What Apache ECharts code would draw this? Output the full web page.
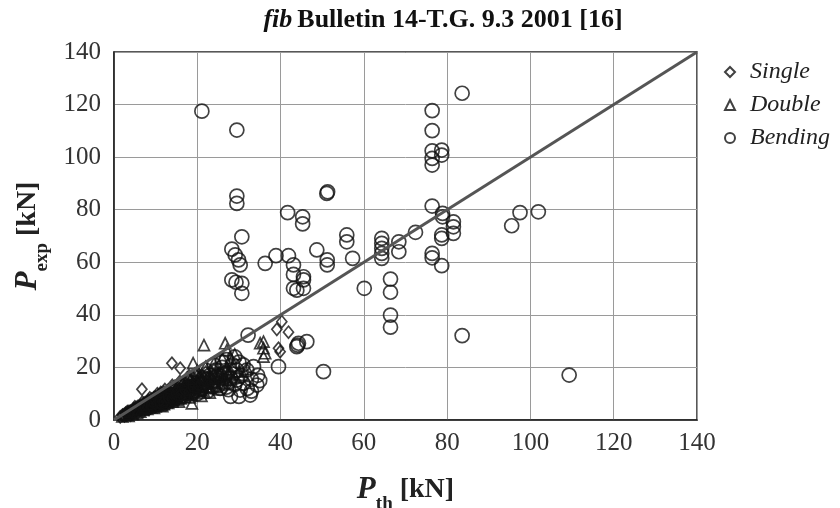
<!DOCTYPE html>
<html>
<head>
<meta charset="utf-8">
<script src="https://cdn.jsdelivr.net/npm/echarts@6/dist/echarts.min.js"></script>
<style>
  html, body { margin: 0; padding: 0; background: #fff; }
  #chart { width: 840px; height: 508px; }
</style>
</head>
<body>
<div id="chart"></div>
<script>
// Axis ticks (kN)
const axisMin = 0;
const axisMax = 140;
const axisStep = 20;

// Single-shear specimens [P_th, P_exp]
const singleData = [
  [1.5,1.2],[2,1.8],[2.5,1.5],[3,2.4],[3,1.9],[3.5,2.8],[3.8,2.2],[4,3.4],[4.2,2.7],[4.5,3.8],
  [4.8,2.9],[5,4.2],[5,3.3],[5.3,4.8],[5.5,3.6],[5.8,4.4],[6,5.2],[6,3.9],[6.2,4.7],[6.5,5.6],
  [6.7,11.7],[6.8,4.3],[7,6.1],[7,5.0],[7.3,4.6],[7.5,6.6],[7.6,5.4],[8,7.0],[8,5.8],[8.2,4.9],
  [8.5,7.3],[8.5,6.2],[8.8,5.3],[9,8.0],[9,6.6],[9.3,5.8],[9.5,8.4],[9.6,7.1],[10,8.8],[10,6.3],
  [10.2,7.6],[10.5,9.2],[10.6,5.9],[11,9.6],[11,7.9],[11.3,6.7],[11.5,10.2],[11.8,8.4],[12,10.6],[12,7.2],
  [12.4,9.1],[12.6,6.6],[13,11.3],[13,8.3],[13.4,9.8],[13.5,7.4],[13.9,21.6],[14,12.2],[14,9.0],[14.5,10.6],
  [14.8,7.9],[15,12.8],[15.2,9.6],[15.5,11.4],[15.9,19.7],[16,13.6],[16,10.2],[16.5,12.1],[17,14.3],[17,9.4],
  [17.4,11.2],[18,15.1],[18,12.6],[18.5,10.1],[19,16.0],[19,13.2],[19.5,11.5],[20,16.6],[20,13.9],[21,17.2],
  [21,14.6],[22,18.1],[22,12.8],[23,16.4],[24,19.0],[25,17.5],
  [2.2,2.0],[2.8,2.6],[3.3,2.9],[3.6,3.3],[4.4,3.3],[4.7,4.3],[5.2,3.9],[5.7,5.1],[6.3,5.5],[6.6,4.5],
  [7.2,6.4],[7.8,5.1],[8.3,7.6],[8.7,6.4],[9.2,7.5],[9.8,8.5],[10.3,8.2],[10.8,7.0],[11.2,10.4],[11.6,9.0],
  [12.2,9.8],[12.8,10.1],[13.2,8.8],[13.7,11.8],[14.2,10.1],[14.6,12.8],[15.3,10.7],[15.7,13.3],[16.3,11.3],[16.8,14.0],
  [17.6,13.0],[18.2,14.4],[18.8,11.4],[19.3,14.7],[20.4,15.3],[21.5,16.0],
  [4.0,1.8],[5.6,2.6],[7.0,3.4],[8.4,4.0],[9.8,5.0],[11.2,5.6],[12.6,6.2],[14.0,6.9],[15.4,7.6],[16.8,8.4],
  [3.2,3.2],[5.0,5.0],[6.8,6.8],[8.6,8.4],[10.4,10.0],[12.2,11.6],[14.0,13.2],[15.8,14.6],[17.6,16.1],[19.4,17.5],
  [39.1,34.5],[40.3,37.4],[41.9,33.4],[39.5,27.3],[39.9,26.0]
];

// Double-shear specimens [P_th, P_exp]
const doubleData = [
  [2,1.4],[3,2.0],[3.5,1.6],[4,2.8],[4.5,2.2],[5,3.6],[5.5,2.7],[6,4.6],[6.3,3.2],[6.8,5.2],
  [7,3.8],[7.4,4.4],[7.8,6.0],[8,4.2],[8.4,5.1],[8.8,6.8],[9,4.8],[9.4,5.6],[9.8,7.4],[10,5.2],
  [10.4,6.1],[10.8,8.1],[11,5.6],[11.4,6.9],[11.8,8.8],[12,6.0],[12.4,7.6],[12.8,9.5],[13,6.5],[13.4,8.3],
  [13.8,10.1],[14,7.0],[14.4,9.0],[14.8,11.0],[15,7.6],[15.4,9.7],[15.8,11.8],[16,8.2],[16.4,10.4],[16.8,12.6],
  [17,8.8],[17.5,11.1],[18,13.5],[18.7,6.3],[18.5,9.5],[19,21.6],[19,12.0],[19.5,14.2],[20,10.3],[20.5,12.8],
  [21,15.2],[21.6,28.5],[21.5,11.2],[22,13.7],[22.5,16.2],[23,12.1],[23.5,14.6],[24,17.3],[24.5,13.0],[25,15.6],
  [25.5,18.4],[26,14.1],[26.7,29.2],[27.1,26.6],[26.5,16.6],[27,19.5],[27.5,15.2],[28,17.6],[28.5,20.4],[29,16.3],
  [28,23.5],[29,25.0],[30,18.5],[31,17.2],[32,19.3],
  [2.6,2.2],[3.8,3.1],[4.8,3.9],[5.8,4.1],[6.6,4.0],[7.2,5.6],[7.6,4.9],[8.2,6.4],[8.6,5.9],[9.2,6.2],
  [9.6,4.6],[10.2,7.8],[10.6,6.8],[11.2,7.3],[11.6,5.3],[12.2,9.0],[12.6,7.0],[13.2,9.8],[13.6,7.8],[14.2,8.2],
  [14.6,10.5],[15.2,8.9],[15.6,7.0],[16.2,9.6],[16.6,11.7],[17.2,10.0],[17.8,12.2],[18.2,8.6],[19.2,10.8],[19.8,12.5],
  [20.8,11.5],[21.3,13.8],[22.3,12.6],[23.3,15.5],[24.3,14.0],[25.3,17.0],[26.3,15.3],[27.3,17.8],
  [18.0,17.0],[20.0,18.8],[22.0,20.2],[24.0,21.6],[26.0,23.4],[21.0,9.2],[23.0,10.4],[25.0,11.6],
  [35.1,29.2],[35.9,29.8],[35.9,27.3],[36.3,25.4],[35.9,24.1]
];

// Bending specimens [P_th, P_exp]
const bendingData = [
  [8,5],[9,6.5],[10,7],[11,6],[12,8],[13,7.5],[14,9.5],[15,8.5],[16,11],[17,10],
  [18,12.5],[19,11],[20,14],[20,10],[21,12],[21.5,16],[22,14.5],[22.5,11],[23,17],[23.8,12.7],
  [24,15],[24.5,19],[25,13],[25.5,16.5],[26,20],[26.5,14],[27,18],[27.5,11.5],[28,16],[28.5,21],
  [29,13.5],[29.5,15.2],[29.5,19],[30.3,11.4],[30.5,17],[31,14],[31.9,19],[32,12],[32.7,9.5],[33.5,20.3],
  [34.3,13.3],[34.5,17],[35,15],[33,15.5],[28,9],[27,12.5],[31,21],[27,23],[29,24],
  [9.5,5.5],[10.5,8],[11.5,7],[12.5,6.5],[13.5,9],[14.5,8],[15.5,10],[16.5,9],[17.5,12],[18.5,10],
  [19.5,13],[20.5,11.5],[21.5,13.5],[22.5,15.5],[23.5,13],[24.5,16.5],[25.5,12],[26.5,17.5],[27.5,14.5],[28.5,17.5],
  [26,22],[24,21],[22,19],[30,22],[30,9],[33,11],
  [21.1,117.5],[29.5,110.3],[29.5,85.2],[29.5,82.4],[51.1,86.2],[51.3,86.8],[41.7,78.9],[45.3,77.3],[45.3,74.6],
  [30.7,69.7],[28.3,65],[29.1,62.8],[29.9,60.9],[30.3,59],[36.3,59.6],[38.9,62.5],[41.9,62.5],[43.1,59],
  [48.7,64.7],[51.2,60.9],[51.2,59],[55.9,70.4],[55.9,67.8],[57.3,61.5],[28.3,53.3],[29.3,52.4],[30.7,52],
  [30.7,48.2],[43.1,55.4],[45.5,54.5],[43.1,50.1],[45.5,53.3],[45.5,50.1],[43.9,49.4],[60.1,50.1],
  [83.6,124.3],[76.4,117.7],[76.4,110.1],[76.4,102.4],[76.4,99.5],[76.4,97],[78.7,102.7],[78.7,100.8],
  [76.4,81.4],[78.9,78.6],[78.9,77.3],[81.5,75.4],[81.5,73.5],[81.5,71],[78.7,70.4],[78.7,69.1],
  [97.5,78.9],[95.5,73.9],[101.9,79.2],[72.4,71.4],[68.4,67.8],[68.4,64],[64.3,69.1],[64.3,67.2],
  [64.3,65.3],[64.3,63.4],[64.3,61.5],[76.4,63.4],[76.4,61.7],[78.7,58.7],[66.4,53.6],[66.4,48.6],
  [66.4,39.9],[66.4,35.3],[83.6,32.1],[109.3,17.1],
  [32.2,32.3],[39.5,20.3],[50.3,18.4],[44.3,29.2],[43.9,27.9],[46.3,29.8],[44.1,28.5]
];

// Line of equality P_exp = P_th
const equalityLine = [[0,0],[140,140]];

const serif = 'Liberation Serif';
const markStyle = { color: 'rgba(0,0,0,0)', borderColor: '#111', borderWidth: 1.7 };

const nameRich = () => ({
  p: { fontFamily: serif, fontSize: 31, fontWeight: 'bold', fontStyle: 'italic', color: '#222', lineHeight: 34, verticalAlign: 'middle' },
  s: { fontFamily: serif, fontSize: 19, fontWeight: 'bold', color: '#222', lineHeight: 34, verticalAlign: 'bottom', padding: [0, 0, -7, 0] },
  u: { fontFamily: serif, fontSize: 28, fontWeight: 'bold', color: '#222', lineHeight: 34, verticalAlign: 'middle' }
});

const chart = echarts.init(document.getElementById('chart'), null, { renderer: 'canvas' });

chart.setOption({
  animation: false,
  backgroundColor: '#fff',
  title: {
    text: '{i|fib} {b|Bulletin 14-T.G. 9.3 2001 [16]}',
    left: 438,
    textAlign: 'center',
    top: 2,
    textStyle: {
      rich: {
        i: { fontFamily: serif, fontSize: 26, fontWeight: 'bold', fontStyle: 'italic', color: '#111' },
        b: { fontFamily: serif, fontSize: 26, fontWeight: 'bold', color: '#111' }
      }
    }
  },
  legend: {
    orient: 'vertical',
    left: 719,
    top: 55,
    itemGap: 9,
    itemWidth: 10,
    itemHeight: 10,
    data: ['Single', 'Double', 'Bending'],
    textStyle: { fontFamily: serif, fontSize: 24, fontStyle: 'italic', color: '#222', padding: [0, 0, 0, 10] }
  },
  grid: {
    left: 114, right: 143, top: 52, bottom: 88,
    outerBoundsMode: 'none',
    containLabel: false,
    show: true, borderColor: '#222', borderWidth: 1.5, backgroundColor: 'transparent'
  },
  xAxis: {
    type: 'value', min: axisMin, max: axisMax, interval: axisStep,
    axisLine: { show: true, lineStyle: { color: '#222', width: 1.5 } },
    axisTick: { show: false },
    splitLine: { show: true, lineStyle: { color: '#9a9a9a', width: 1 } },
    axisLabel: { fontFamily: serif, fontSize: 25, color: '#333', margin: 11 },
    name: '{p|P}{s|th}{u| [kN]}',
    nameLocation: 'middle',
    nameGap: 53,
    nameTextStyle: { rich: nameRich() }
  },
  yAxis: {
    type: 'value', min: axisMin, max: axisMax, interval: axisStep,
    axisLine: { show: true, lineStyle: { color: '#222', width: 1.5 } },
    axisTick: { show: false },
    splitLine: { show: true, lineStyle: { color: '#9a9a9a', width: 1 } },
    axisLabel: { fontFamily: serif, fontSize: 25, color: '#333', margin: 13 },
    name: '{p|P}{s|exp}{u| [kN]}',
    nameLocation: 'middle',
    nameGap: 69,
    nameRotate: 90,
    nameTextStyle: { rich: nameRich() }
  },
  series: [
    {
      name: 'Single', type: 'scatter', symbol: 'diamond', symbolSize: [10, 12],
      itemStyle: markStyle, data: singleData, z: 3
    },
    {
      name: 'Double', type: 'scatter', symbol: 'triangle', symbolSize: 11,
      itemStyle: markStyle, data: doubleData, z: 3
    },
    {
      name: 'Bending', type: 'scatter', symbol: 'circle', symbolSize: 14,
      itemStyle: markStyle, data: bendingData, z: 3
    },
    {
      name: 'equality', type: 'line', data: equalityLine, showSymbol: false, symbol: 'none',
      lineStyle: { color: '#555', width: 3 }, z: 5, silent: true
    }
  ]
});
</script>
</body>
</html>
